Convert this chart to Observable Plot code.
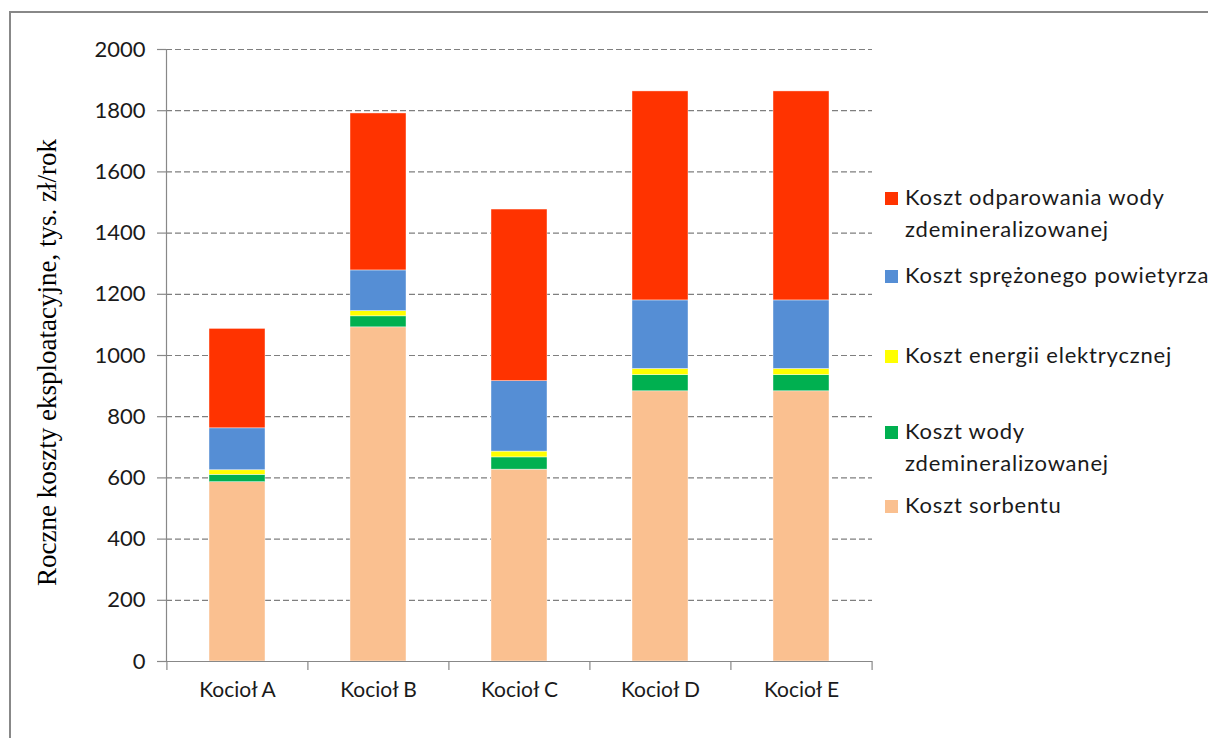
<!DOCTYPE html>
<html>
<head>
<meta charset="utf-8">
<script src="https://cdn.jsdelivr.net/npm/d3@7"></script>
<script src="https://cdn.jsdelivr.net/npm/@observablehq/plot@0.6"></script>
<style>
  html, body { margin: 0; padding: 0; background: #fff; }
  #wrap { position: relative; width: 1208px; height: 738px; overflow: hidden; background: #fff; }
  #frame { position: absolute; left: 9px; top: 11px; width: 1400px; height: 900px; border: 2px solid #888; box-sizing: border-box; }
  #chart { position: absolute; left: 0; top: 0; }
  .leg { position: absolute; left: 885px; display: flex; align-items: flex-start; font-family: Lato, "Open Sans", sans-serif; font-size: 22px; letter-spacing: 0.8px; line-height: 32px; color: #1a1a1a; white-space: nowrap; }
  .leg .sw { width: 13px; height: 13px; margin-top: 11px; margin-right: 7px; flex: none; }
</style>
</head>
<body>
<div id="wrap">
  <div id="frame"></div>
  <div id="chart"></div>
  <div id="legend"></div>
</div>
<script>
const categories = ["Kocioł A", "Kocioł B", "Kocioł C", "Kocioł D", "Kocioł E"];
const seriesNames = [
  "Koszt sorbentu",
  "Koszt wody zdemineralizowanej",
  "Koszt energii elektrycznej",
  "Koszt sprężonego powietyrza",
  "Koszt odparowania wody zdemineralizowanej"
];
const sorbent     = [586, 1092, 627, 883, 883];
const water       = [24, 36, 40, 53, 53];
const electricity = [15, 17, 19, 20, 20];
const air         = [137, 133, 230, 224, 224];
const evaporation = [325, 513, 561, 683, 683];
const seriesColors = ["#FAC090", "#00B050", "#FFFF00", "#558ED5", "#FF3300"];
const yTicks = [0, 200, 400, 600, 800, 1000, 1200, 1400, 1600, 1800, 2000];
const yLabel = "Roczne koszty eksploatacyjne, tys. zł/rok";

// legend entries, top to bottom, with their text lines
const legendLines = [
  ["Koszt odparowania wody", "zdemineralizowanej"],
  ["Koszt sprężonego powietyrza"],
  ["Koszt energii elektrycznej"],
  ["Koszt wody", "zdemineralizowanej"],
  ["Koszt sorbentu"]
];
const legendSeries = [4, 3, 2, 1, 0];
const legendTops = [181, 259, 339, 415, 489];

const seriesValues = [sorbent, water, electricity, air, evaporation];
const rows = [];
seriesNames.forEach((s, si) => {
  categories.forEach((c, ci) => rows.push({category: c, series: s, value: seriesValues[si][ci]}));
});

const W = 1208, H = 738;
const mL = 166, mR = 336, mT = 49, mB = 77;
const step = (W - mL - mR) / categories.length;

const plot = Plot.plot({
  width: W, height: H,
  marginLeft: mL, marginRight: mR, marginTop: mT, marginBottom: mB,
  style: {fontFamily: "Lato, 'Open Sans', sans-serif", fontSize: "22px", color: "#1a1a1a", background: "transparent", overflow: "visible"},
  x: {domain: categories, paddingInner: 0.6, paddingOuter: 0.3, label: null},
  y: {domain: [0, 2000], label: null},
  color: {domain: seriesNames, range: seriesColors},
  marks: [
    Plot.gridY(yTicks.filter(v => v > 0), {stroke: "#7f7f7f", strokeOpacity: 1, strokeDasharray: "6,3", strokeWidth: 1.2}),
    Plot.barY(rows, {x: "category", y: "value", fill: "series", stroke: "#fff", strokeWidth: 0.6, strokeOpacity: 0.7}),
    Plot.ruleY([0], {stroke: "#888", strokeWidth: 1.2}),
    Plot.frame({anchor: "left", stroke: "#888", strokeWidth: 1.2}),
    Plot.axisY(yTicks, {tickSize: 9, tickPadding: 12, tickFormat: d3.format("d"), stroke: "#888", strokeWidth: 1.2, label: null, fontSize: 22, fill: "#1a1a1a"}),
    Plot.axisX({tickSize: 0, tickPadding: 21, label: null, fontSize: 21, fill: "#1a1a1a"}),
    Plot.ruleX(categories, {x: d => d, y1: 0, y2: 0, insetBottom: -9, dx: -step / 2, stroke: "#888", strokeWidth: 1.2}),
    Plot.ruleX(categories.slice(-1), {x: d => d, y1: 0, y2: 0, insetBottom: -9, dx: step / 2, stroke: "#888", strokeWidth: 1.2}),
    Plot.text([yLabel], {frameAnchor: "left", textAnchor: "middle", rotate: -90, dx: -119, dy: 7, fontFamily: "'Liberation Serif', 'DejaVu Serif', serif", fontSize: 27, fill: "#000"})
  ]
});
document.getElementById("chart").appendChild(plot);

const legend = document.getElementById("legend");
legendLines.forEach((lines, i) => {
  const item = document.createElement("div");
  item.className = "leg";
  item.style.top = legendTops[i] + "px";
  const sw = document.createElement("div");
  sw.className = "sw";
  sw.style.background = seriesColors[legendSeries[i]];
  const txt = document.createElement("div");
  txt.innerHTML = lines.join("<br>");
  item.appendChild(sw);
  item.appendChild(txt);
  legend.appendChild(item);
});
</script>
</body>
</html>
